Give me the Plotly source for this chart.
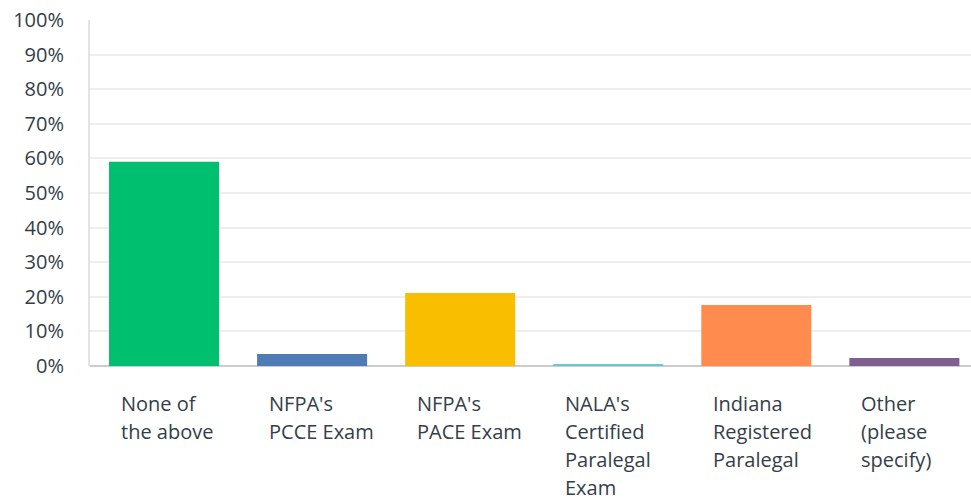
import plotly.graph_objects as go

categories = ["None of<br>the above", "NFPA's<br>PCCE Exam", "NFPA's<br>PACE Exam",
              "NALA's<br>Certified<br>Paralegal<br>Exam", "Indiana<br>Registered<br>Paralegal",
              "Other<br>(please<br>specify)"]
keys = ["none", "pcce", "pace", "nala", "indiana", "other"]
values = [59.0, 3.5, 21.1, 0.6, 17.6, 2.3]
colors = ["#00BF6F", "#507CB6", "#F9BE00", "#6BC8CD", "#FF8B4F", "#7F5F90"]
y_ticks = list(range(0, 101, 10))

FONT = "Open Sans"
TXT = "#333E48"

fig = go.Figure(go.Bar(x=keys, y=values, marker=dict(color=colors, line=dict(width=0)),
                       hoverinfo="skip"))

for k, lab in zip(keys, categories):
    for i, line in enumerate(lab.split("<br>")):
        fig.add_annotation(x=k, xref="x", y=0, yref="paper", text=line, showarrow=False,
                           xanchor="left", yanchor="middle", align="left", borderpad=0,
                           xshift=-44, yshift=-37 - 28.2 * i,
                           font=dict(family=FONT, size=20, color=TXT))

fig.update_layout(
    width=971, height=500,
    margin=dict(l=90, r=0, t=20, b=134, pad=0),
    paper_bgcolor="white", plot_bgcolor="white",
    bargap=0.257, showlegend=False,
    font=dict(family=FONT, size=20, color=TXT),
)
fig.update_xaxes(showticklabels=False, showgrid=False, zeroline=False, showline=False,
                 ticks="", automargin=False, range=[-0.5, 5.45])
fig.update_yaxes(range=[0, 100], tickvals=y_ticks, ticktext=[f"{t}%" for t in y_ticks],
                 showgrid=True, gridcolor="#EEEEEE", gridwidth=2,
                 showline=True, linecolor="#E3E3E3", linewidth=2,
                 zeroline=True, zerolinecolor="#CCCCCC", zerolinewidth=2,
                 ticks="", ticklabelstandoff=20, automargin=False,
                 tickfont=dict(family=FONT, size=20, color=TXT))

fig.write_html("out.html", config={"displayModeBar": False, "staticPlot": True},
               post_script="document.body.style.margin='0px';document.body.style.overflow='hidden';")
